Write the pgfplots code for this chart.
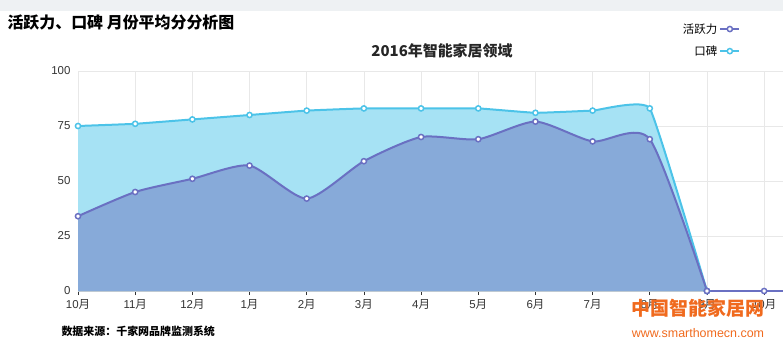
\documentclass[border=0pt]{standalone}
\usepackage{fontspec}
\setmainfont{Liberation Sans}
\newfontfamily\cjk{Noto Sans CJK SC}
\usepackage{pgfplots}
\pgfplotsset{compat=1.18}
\definecolor{band}{HTML}{EEF1F3}
\definecolor{hyline}{HTML}{6A70C2}
\definecolor{hyfill}{HTML}{87AAD9}
\definecolor{kbline}{HTML}{4CC3E8}
\definecolor{kbfill}{HTML}{A6E2F4}
\definecolor{gridc}{HTML}{E8E8E8}
\definecolor{wm}{HTML}{F06A1E}
\newcommand\yue{{\cjk 月}}
\begin{document}
\begin{tikzpicture}[x=1bp,y=1bp]
\fill[band] (0,340) rectangle (783,351);
\path[use as bounding box] (0,0) rectangle (783,351);
\node[anchor=west,font=\cjk\bfseries\fontsize{16}{18}\selectfont] at (4,328) {活跃力、口碑 月份平均分分析图};
\node[font=\cjk\bfseries\fontsize{15}{17}\selectfont,text=black!85] at (442,300) {2016年智能家居领域};
\node[anchor=west,font=\cjk\bfseries\fontsize{11}{13}\selectfont] at (58,20) {数据来源：千家网品牌监测系统};
\begin{axis}[
  at={(78bp,60bp)}, anchor=south west, scale only axis,
  width=705bp, height=220bp,
  xmin=0, xmax=12.33, ymin=0, ymax=100,
  xtick={0,...,12},
  xticklabels={10\yue,11\yue,12\yue,1\yue,2\yue,3\yue,4\yue,5\yue,6\yue,7\yue,8\yue,9\yue,10\yue},
  ytick={0,25,50,75,100},
  grid=major, grid style={gridc, line width=0.6bp},
  axis x line*=bottom, axis y line*=left,
  axis line style={gridc},
  x axis line style={black!20},
  xtick style={black!80, line width=0.6bp},
  ytick style={draw=none},
  tick align=outside, major tick length=4bp,
  tick label style={font=\fontsize{11.5}{13}\selectfont, text=black!80},
  /pgf/number format/assume math mode=true,
  xticklabel style={yshift=-1bp},
  legend plot pos=right,
  legend cell align=right,
  legend style={at={(0.944,1.235)}, anchor=north east, draw=none, fill=none,
    font=\cjk\fontsize{11.5}{13}\selectfont, row sep=7bp,
    /tikz/every even column/.append style={column sep=2bp}},
  legend image code/.code={\draw[#1, mark=none] (0bp,0bp) -- (19bp,0bp); \draw[#1, only marks] plot coordinates {(9.5bp,0bp)};},
]
\addlegendimage{hyline, line width=2bp, mark=*, mark options={fill=white, draw=hyline, line width=1.5bp}, mark size=2.6bp}
\addlegendentry{活跃力}
\addlegendimage{kbline, line width=2bp, mark=*, mark options={fill=white, draw=kbline, line width=1.5bp}, mark size=2.6bp}
\addlegendentry{口碑}
% 口碑
\addplot[smooth, tension=0.2, draw=none, fill=kbfill, forget plot] coordinates {
(0,75)(1,76)(2,78)(3,80)(4,82)(5,83)(6,83)(7,83)(8,81)(9,82)(10,83)(11,0)} \closedcycle;
% 活跃力
\addplot[smooth, tension=0.4, draw=none, fill=hyfill, forget plot] coordinates {
(0,34)(1,45)(2,51)(3,57)(4,42)(5,59)(6,70)(7,69)(8,77)(9,68)(10,69)(11,0)} \closedcycle;
\addplot[smooth, tension=0.2, kbline, line width=2bp, mark=*, mark options={fill=white, draw=kbline, line width=1.5bp}, mark size=2.6bp, forget plot] coordinates {
(0,75)(1,76)(2,78)(3,80)(4,82)(5,83)(6,83)(7,83)(8,81)(9,82)(10,83)(11,0)};
\addplot[smooth, tension=0.4, hyline, line width=2bp, mark=*, mark options={fill=white, draw=hyline, line width=1.5bp}, mark size=2.6bp, forget plot] coordinates {
(0,34)(1,45)(2,51)(3,57)(4,42)(5,59)(6,70)(7,69)(8,77)(9,68)(10,69)(11,0)};
\addplot[hyline, line width=2bp, forget plot] coordinates {(11,0)(12,0)(13,0)};
\addplot[hyline, only marks, mark=*, mark options={fill=white, draw=hyline, line width=1.5bp}, mark size=2.6bp, forget plot] coordinates {(11,0)(12,0)};
\end{axis}
\node[font=\cjk\bfseries\fontsize{19}{21}\selectfont, text=wm] at (698,43) {中国智能家居网};
\node[font=\fontsize{12.5}{14}\selectfont, text=wm] at (698,18) {www.smarthomecn.com};
\end{tikzpicture}
\end{document}
